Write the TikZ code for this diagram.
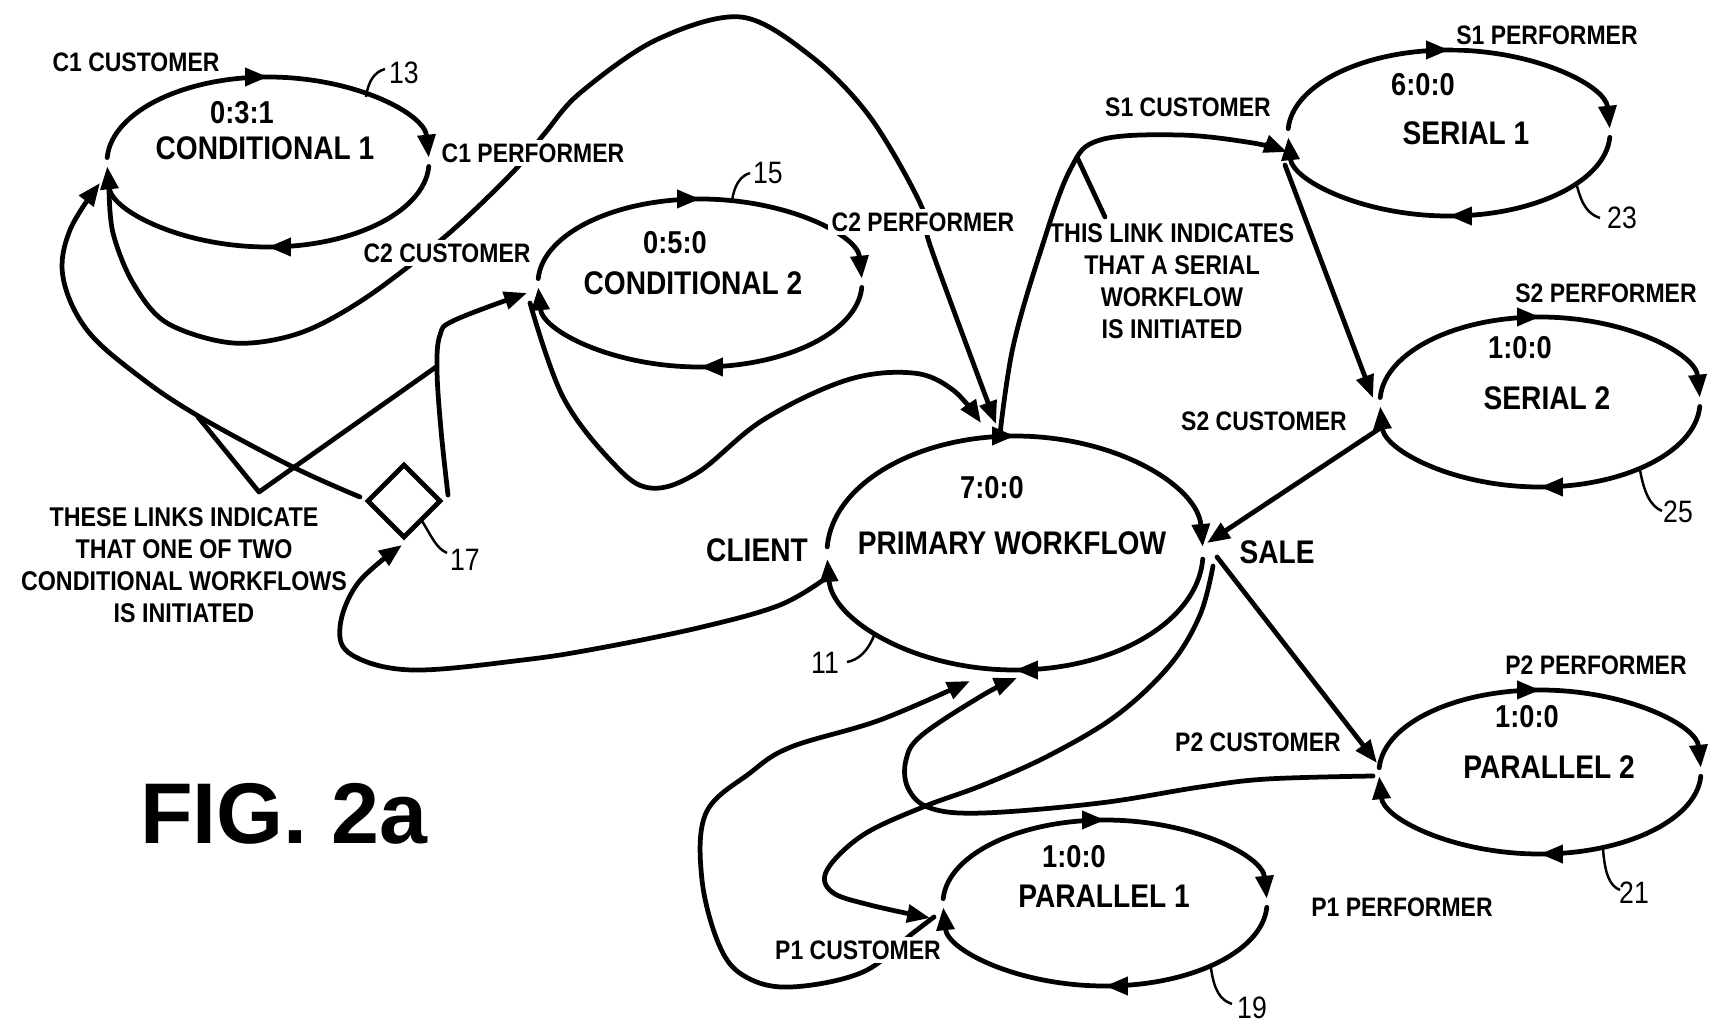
\documentclass[tikz,border=0pt]{standalone}
\usepackage{fontspec}
\newfontfamily\lblfont{Liberation Sans}[FakeStretch=0.86]
\newfontfamily\figfont{Liberation Sans}
\usetikzlibrary{arrows.meta,shapes.geometric,decorations.markings}

\begin{document}
\begin{tikzpicture}[x=0.01cm,y=-0.01cm]
\tikzset{
  flow/.style={line width=1.35pt, line cap=round, line join=round},
  arr/.style={flow, -{Triangle[length=6.5pt,width=5pt]}},
  half/.style={arr, postaction={decorate}, decoration={markings,
      mark=at position 0.5 with {\arrow{Triangle[length=6.5pt,width=5pt]}}}},
  lead/.style={line width=0.7pt},
  wf/.style={ellipse, inner sep=0, outer sep=0},
  lbl/.style={font=\lblfont\bfseries\fontsize{7.6}{9}\selectfont, fill=white, inner sep=1pt},
  ttl/.style={font=\lblfont\bfseries\fontsize{9.3}{11}\selectfont, inner sep=0},
  cnt/.style={font=\lblfont\bfseries\fontsize{9}{11}\selectfont, inner sep=0},
  num/.style={font=\lblfont\fontsize{8.8}{10}\selectfont, inner sep=0},
  note/.style={font=\lblfont\bfseries\fontsize{7.7}{9.1}\selectfont, align=center, inner sep=0},
}
\fill[white] (0,0) rectangle (1714,1024);
\useasboundingbox (0,0) rectangle (1714,1024);

% workflows
\node (cond1) [wf, minimum width=3.22cm, minimum height=1.70cm] at (268,162) {};
\node (cond2) [wf, minimum width=3.24cm, minimum height=1.68cm] at (700,283) {};
\node (prim)  [wf, minimum width=3.76cm, minimum height=2.34cm] at (1015,553) {};
\node (ser1)  [wf, minimum width=3.22cm, minimum height=1.66cm] at (1449,133) {};
\node (ser2)  [wf, minimum width=3.20cm, minimum height=1.70cm] at (1540,402) {};
\node (par2)  [wf, minimum width=3.22cm, minimum height=1.64cm] at (1540,772) {};
\node (par1)  [wf, minimum width=3.24cm, minimum height=1.66cm] at (1105,903) {};
\node (gate) [diamond, draw, line width=1.35pt, minimum width=0.72cm, minimum height=0.72cm,
  aspect=1, inner sep=0, outer sep=0] at (404,501) {};

\foreach \n/\a/\b in {cond1/161/85, cond2/162/84, prim/188/117, ser1/161/83,
                      ser2/160/85, par2/161/82, par1/162/83} {
  \draw[half] ([shift={(183:{\a} and {\b})}]\n.center) arc[start angle=183, end angle=357, x radius=\a, y radius=\b];
  \draw[half] ([shift={(3:{\a} and {\b})}]\n.center) arc[start angle=3, end angle=177, x radius=\a, y radius=\b];
}

\node[cnt] at (242,113) {0:3:1};  \node[ttl] at (265,148) {CONDITIONAL 1};
\node[cnt] at (675,243) {0:5:0};  \node[ttl] at (693,283) {CONDITIONAL 2};
\node[cnt] at (992,488) {7:0:0};  \node[ttl] at (1012,543) {PRIMARY WORKFLOW};
\node[cnt] at (1423,85) {6:0:0};  \node[ttl] at (1466,133) {SERIAL 1};
\node[cnt] at (1520,348) {1:0:0}; \node[ttl] at (1547,398) {SERIAL 2};
\node[cnt] at (1527,717) {1:0:0}; \node[ttl] at (1549,767) {PARALLEL 2};
\node[cnt] at (1074,857) {1:0:0}; \node[ttl] at (1104,896) {PARALLEL 1};

% conditional links
\draw[arr] plot[smooth, tension=0.6] coordinates {(360,497) (293,467) (200,417) (140,377) (87,330) (63,277) (70,230) (100,183)};
\draw[flow] (198,417) -- (259,492) -- (436,367);
\draw[arr] plot[smooth, tension=0.6] coordinates {(448,495) (441,430) (437,370) (440,335) (455,320) (527,293)};
\draw[arr] plot[smooth, tension=0.6] coordinates {(826,578) (780,605) (702,627) (600,648) (523,660) (412,670) (352,655) (340,627) (358,583) (402,545)};
\draw[arr] plot[smooth, tension=0.55] coordinates {(109,189) (113,233) (133,283) (167,323) (233,343) (300,333) (367,297) (447,235) (513,172) (545,133) (580,93) (656,40) (741,17) (812,57) (870,117) (920,203) (931,248) (996,424)};
\draw[arr] plot[smooth, tension=0.6] coordinates {(530,303) (563,397) (613,463) (650,488) (697,473) (763,420) (847,380) (913,373) (953,390) (981,423)};

% serial links
\draw[arr] plot[smooth, tension=0.6] coordinates {(1000,434) (1013,347) (1040,253) (1070,170) (1100,140) (1180,135) (1253,143) (1287,152)};
\draw[flow] (1077,157) -- (1105,217);
\draw[arr] (1285,165) -- (1373,398);
\draw[arr] (1385,425) -- (1207,543);

% parallel links
\draw[arr] (1217,557) -- (1377,763);
\draw[arr] plot[smooth, tension=0.6] coordinates {(1213,566) (1200,615) (1170,665) (1117,715) (1050,755) (983,785) (923,807) (863,835) (827,870) (832,892) (870,905) (930,918)};
\draw[arr] plot[smooth, tension=0.6] coordinates {(1373,776) (1267,779) (1200,787) (1100,803) (983,813) (930,808) (908,788) (906,760) (922,735) (983,695) (1017,678)};
\draw[arr] plot[smooth, tension=0.6] coordinates {(934,917) (913,933) (863,972) (791,987) (746,977) (720,947) (702,880) (706,813) (750,773) (791,747) (880,720) (970,681)};

% reference numerals
\draw[lead] (366,97) .. controls (368,82) and (374,72) .. (385,69);
\draw[lead] (732,201) .. controls (734,186) and (740,176) .. (750,173);
\draw[lead] (1577,186) .. controls (1582,205) and (1588,214) .. (1600,218);
\draw[lead] (1640,470) .. controls (1644,492) and (1650,506) .. (1662,511);
\draw[lead] (1603,849) .. controls (1605,875) and (1610,886) .. (1620,890);
\draw[lead] (1211,968) .. controls (1214,990) and (1220,1000) .. (1232,1004);
\draw[lead] (875,633) .. controls (868,652) and (858,660) .. (847,662);
\draw[lead] (422,521) .. controls (432,537) and (436,548) .. (447,553);
\node[num] at (404,73) {13};
\node[num] at (768,173) {15};
\node[num] at (1622,218) {23};
\node[num] at (1678,512) {25};
\node[num] at (1634,893) {21};
\node[num] at (1252,1008) {19};
\node[num] at (825,663) {11};
\node[num] at (465,560) {17};

% role labels
\node[lbl] at (136,62) {C1 CUSTOMER};
\node[lbl] at (533,153) {C1 PERFORMER};
\node[lbl] at (447,253) {C2 CUSTOMER};
\node[lbl] at (923,222) {C2 PERFORMER};
\node[lbl] at (1188,107) {S1 CUSTOMER};
\node[lbl] at (1547,35) {S1 PERFORMER};
\node[lbl] at (1606,293) {S2 PERFORMER};
\node[lbl] at (1264,421) {S2 CUSTOMER};
\node[ttl] at (757,550) {CLIENT};
\node[ttl] at (1277,552) {SALE};
\node[lbl] at (1596,665) {P2 PERFORMER};
\node[lbl] at (1258,742) {P2 CUSTOMER};
\node[lbl] at (1402,907) {P1 PERFORMER};
\node[lbl] at (858,950) {P1 CUSTOMER};

\node[note] at (184,565) {THESE LINKS INDICATE\\THAT ONE OF TWO\\CONDITIONAL WORKFLOWS\\IS INITIATED};
\node[note] at (1172,281) {THIS LINK INDICATES\\THAT A SERIAL\\WORKFLOW\\IS INITIATED};
\node[font=\figfont\bfseries\fontsize{24.5}{28}\selectfont, inner sep=0] at (284,814) {FIG. 2a};
\end{tikzpicture}
\end{document}
